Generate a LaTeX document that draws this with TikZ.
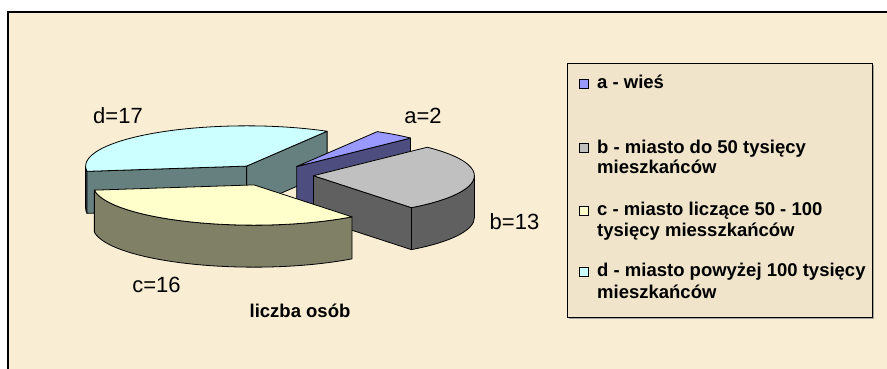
\documentclass[tikz,border=0pt]{standalone}
\usepackage{fontspec}
\setmainfont{Liberation Sans}
\usetikzlibrary{positioning}
\definecolor{paper}{RGB}{249,237,212}
\definecolor{legpaper}{RGB}{240,228,202}
\definecolor{atop}{RGB}{153,153,255}
\definecolor{aside}{RGB}{77,77,128}
\definecolor{btop}{RGB}{192,192,192}
\definecolor{bside}{RGB}{96,96,96}
\definecolor{ctop}{RGB}{255,255,204}
\definecolor{cside}{RGB}{128,128,102}
\definecolor{dtop}{RGB}{204,255,255}
\definecolor{dside}{RGB}{102,128,128}

\begin{document}
\begin{tikzpicture}[x=1pt, y=1pt,
    face/.style={draw=black, line width=0.8pt, line join=round},
    lbl/.style={font=\fontsize{22}{26}\selectfont, inner sep=0pt, anchor=base},
    legtext/.style={font=\bfseries\fontsize{18.5}{21}\selectfont, inner sep=0pt, anchor=base west},
    key/.style={draw=black, line width=0.8pt, minimum size=9pt, inner sep=0pt}]
    \clip (0,0) rectangle (887,368);
    % frame
    \fill[paper] (8,-10) rectangle (900,356);
    \draw[line width=1.6pt] (8,-10) rectangle (900,356);

    % slice d
    \begin{scope}[shift={(246.6,201.9)}]
        \fill[dside, face] (180:161 and 40.25) arc[start angle=180, end angle=187.5, x radius=161pt, y radius=40.25pt] -- ++(0,-42) arc[start angle=187.5, end angle=180, x radius=161pt, y radius=40.25pt] -- cycle;
        \fill[dside, face] (0,0) -- (187.5:161 and 40.25) -- ++(0,-42) -- (0,-42) -- cycle;
        \fill[dside, face] (0,0) -- (60:161 and 40.25) -- ++(0,-42) -- (0,-42) -- cycle;
        \fill[dtop, face] (0,0) -- (60:161 and 40.25) arc[start angle=60, end angle=187.5, x radius=161pt, y radius=40.25pt] -- cycle;
    \end{scope}
    % slice a
    \begin{scope}[shift={(296.7,201.5)}]
        \fill[aside, face] (0,0) -- (45:161 and 40.25) -- ++(0,-42) -- (0,-42) -- cycle;
        \fill[atop, face] (0,0) -- (45:161 and 40.25) arc[start angle=45, end angle=60, x radius=161pt, y radius=40.25pt] -- cycle;
    \end{scope}
    % slice b
    \begin{scope}[shift={(313.4,192.3)}]
        \fill[bside, face] (0,0) -- (-52.5:161 and 40.25) -- ++(0,-42) -- (0,-42) -- cycle;
        \fill[bside, face] (-52.5:161 and 40.25) arc[start angle=-52.5, end angle=0, x radius=161pt, y radius=40.25pt] -- ++(0,-42) arc[start angle=0, end angle=-52.5, x radius=161pt, y radius=40.25pt] -- cycle;
        \fill[btop, face] (0,0) -- (-52.5:161 and 40.25) arc[start angle=-52.5, end angle=45, x radius=161pt, y radius=40.25pt] -- cycle;
    \end{scope}
    % slice c
    \begin{scope}[shift={(254.0,183.1)}]
        \fill[cside, face] (-172.5:161 and 40.25) arc[start angle=-172.5, end angle=-52.5, x radius=161pt, y radius=40.25pt] -- ++(0,-42) arc[start angle=-52.5, end angle=-172.5, x radius=161pt, y radius=40.25pt] -- cycle;
        \fill[ctop, face] (0,0) -- (-172.5:161 and 40.25) arc[start angle=-172.5, end angle=-52.5, x radius=161pt, y radius=40.25pt] -- cycle;
    \end{scope}

    % labels
    \node[lbl] (lbld) at (118,245) {d=17};
    \node[lbl] (lbla) at (423,245) {a=2};
    \node[lbl] (lblb) at (514.5,138.7) {b=13};
    \node[lbl] (lblc) at (156.5,76) {c=16};
    \node[legtext, anchor=base] (title) at (300,50.3) {liczba osób};

    % legend
    \fill[gray!70] (569,49) rectangle (874,303);
    \fill[legpaper] (567,51) rectangle (872,305);
    \draw[line width=0.8pt] (567,51) rectangle (872,305);
    \node[key, fill=atop] (keya) at (584,284.5) {};
    \node[key, fill=btop] (keyb) at (584,220) {};
    \node[key, fill=ctop] (keyc) at (584,157.5) {};
    \node[key, fill=dtop] (keyd) at (584,96) {};
    \node[legtext] (lega) at (597,279.7) {a - wieś};
    \node[legtext] (legb) at (597,214.7) {b - miasto do 50 tysięcy};
    \node[legtext] (legb2) at (597,195) {mieszkańców};
    \node[legtext] (legc) at (597,153) {c - miasto liczące 50 - 100};
    \node[legtext] (legc2) at (597,132) {tysięcy miesszkańców};
    \node[legtext] (legd) at (597,91.3) {d - miasto powyżej 100 tysięcy};
    \node[legtext] (legd2) at (597,70) {mieszkańców};
\end{tikzpicture}
\end{document}
